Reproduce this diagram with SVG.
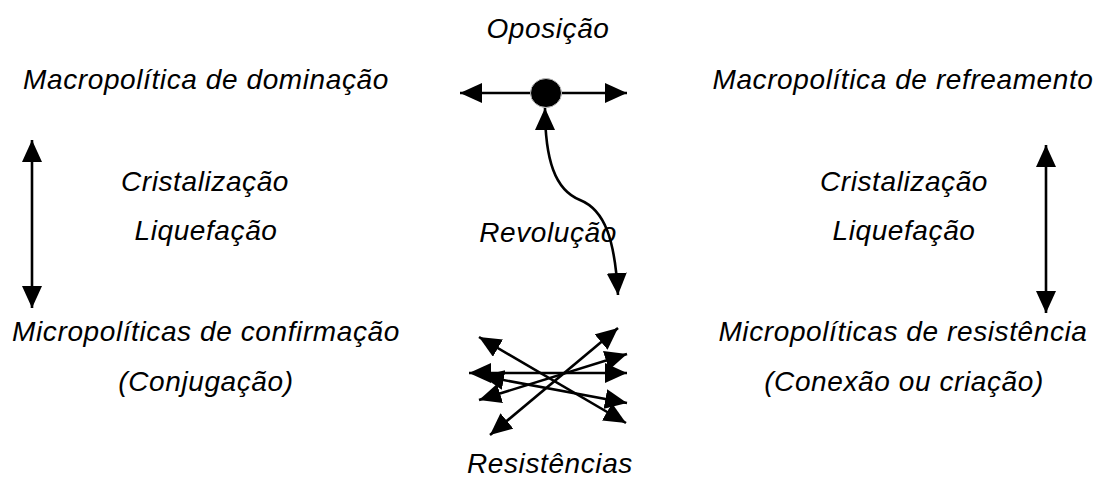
<svg xmlns="http://www.w3.org/2000/svg" width="1097" height="478" viewBox="0 0 1097 478">
<style>
text{font-family:"Liberation Sans",Arial,sans-serif;font-style:italic;font-size:28px;letter-spacing:0.6px;fill:#000;text-anchor:middle}
.c{fill:none;stroke:#000;stroke-width:2.6}
</style>
<defs>
<marker id="ah" markerUnits="userSpaceOnUse" markerWidth="23" markerHeight="20" refX="22" refY="10" orient="auto-start-reverse" viewBox="0 0 23 20">
<path d="M0,0 L22,10 L0,20 Z" fill="#000"/>
</marker>
</defs>
<rect width="1097" height="478" fill="#fff"/>
<g id="connectors">
<line class="c" x1="32" y1="140" x2="32" y2="308" marker-start="url(#ah)" marker-end="url(#ah)"/>
<line class="c" x1="1046" y1="145" x2="1046" y2="313" marker-start="url(#ah)" marker-end="url(#ah)"/>
<line class="c" x1="531" y1="93" x2="460" y2="93" marker-end="url(#ah)"/>
<line class="c" x1="561" y1="93" x2="627" y2="93" marker-end="url(#ah)"/>
<path class="c" d="M545,108 C545,160 555,190 580,200 C605,210 615,240 618,295" marker-start="url(#ah)" marker-end="url(#ah)"/>
<line class="c" x1="479" y1="337" x2="626" y2="423" marker-start="url(#ah)" marker-end="url(#ah)"/>
<line class="c" x1="490" y1="435" x2="618" y2="328" marker-start="url(#ah)" marker-end="url(#ah)"/>
<line class="c" x1="469" y1="373" x2="627" y2="373" marker-start="url(#ah)" marker-end="url(#ah)"/>
<line class="c" x1="482" y1="376" x2="627" y2="403" marker-start="url(#ah)" marker-end="url(#ah)"/>
<line class="c" x1="479" y1="400" x2="627" y2="354" marker-start="url(#ah)" marker-end="url(#ah)"/>
</g>
<g id="oposicao-point"><ellipse cx="546" cy="93" rx="15.5" ry="14.5" fill="#000" stroke="#bbb" stroke-width="1"/></g>
<g id="oposicao"><text x="548" y="38">Oposição</text></g>
<g id="macro-dominacao"><text x="206" y="89">Macropolítica de dominação</text></g>
<g id="macro-refreamento"><text x="903" y="89">Macropolítica de refreamento</text></g>
<g id="cristalizacao-l"><text x="205" y="191">Cristalização</text></g>
<g id="liquefacao-l"><text x="206" y="240">Liquefação</text></g>
<g id="cristalizacao-r"><text x="904" y="191">Cristalização</text></g>
<g id="liquefacao-r"><text x="904" y="240">Liquefação</text></g>
<g id="revolucao"><text x="548" y="242">Revolução</text></g>
<g id="micro-confirmacao"><text x="206" y="341">Micropolíticas de confirmação</text><text x="206" y="391">(Conjugação)</text></g>
<g id="micro-resistencia"><text x="903" y="341">Micropolíticas de resistência</text><text x="904" y="391">(Conexão ou criação)</text></g>
<g id="resistencias"><text x="550" y="473">Resistências</text></g>
</svg>
